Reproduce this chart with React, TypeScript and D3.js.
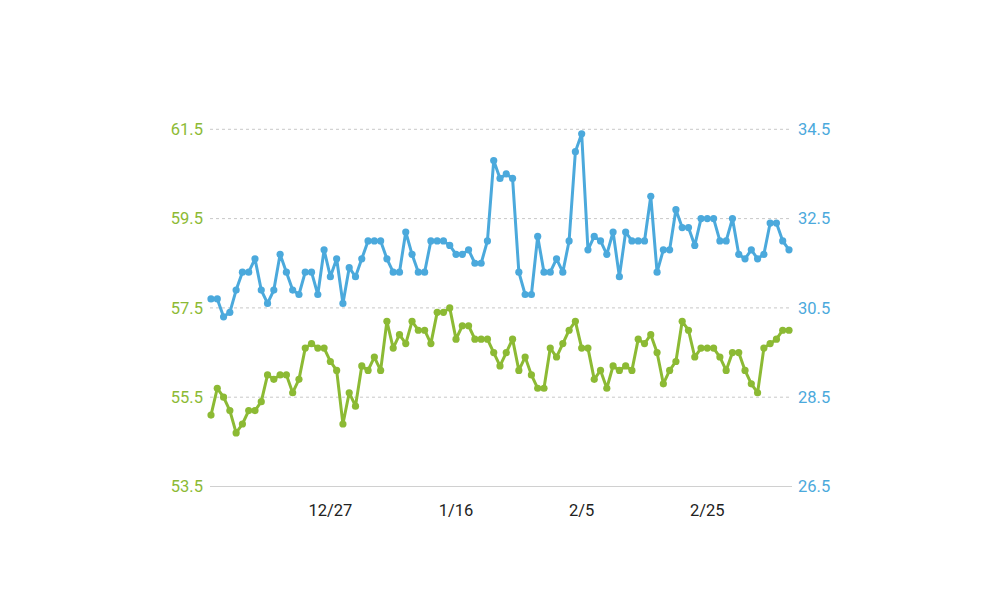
import React from "react";
import * as d3 from "d3";

const startDate = "2020-12-08";
const greenValues = [
  55.1, 55.7, 55.5, 55.2, 54.7, 54.9, 55.2, 55.2, 55.4, 56.0,
  55.9, 56.0, 56.0, 55.6, 55.9, 56.6, 56.7, 56.6, 56.6, 56.3,
  56.1, 54.9, 55.6, 55.3, 56.2, 56.1, 56.4, 56.1, 57.2, 56.6,
  56.9, 56.7, 57.2, 57.0, 57.0, 56.7, 57.4, 57.4, 57.5, 56.8,
  57.1, 57.1, 56.8, 56.8, 56.8, 56.5, 56.2, 56.5, 56.8, 56.1,
  56.4, 56.0, 55.7, 55.7, 56.6, 56.4, 56.7, 57.0, 57.2, 56.6,
  56.6, 55.9, 56.1, 55.7, 56.2, 56.1, 56.2, 56.1, 56.8, 56.7,
  56.9, 56.5, 55.8, 56.1, 56.3, 57.2, 57.0, 56.4, 56.6, 56.6,
  56.6, 56.4, 56.1, 56.5, 56.5, 56.1, 55.8, 55.6, 56.6, 56.7,
  56.8, 57.0, 57.0,
];
const blueValues = [
  30.7, 30.7, 30.3, 30.4, 30.9, 31.3, 31.3, 31.6, 30.9, 30.6,
  30.9, 31.7, 31.3, 30.9, 30.8, 31.3, 31.3, 30.8, 31.8, 31.2,
  31.6, 30.6, 31.4, 31.2, 31.6, 32.0, 32.0, 32.0, 31.6, 31.3,
  31.3, 32.2, 31.7, 31.3, 31.3, 32.0, 32.0, 32.0, 31.9, 31.7,
  31.7, 31.8, 31.5, 31.5, 32.0, 33.8, 33.4, 33.5, 33.4, 31.3,
  30.8, 30.8, 32.1, 31.3, 31.3, 31.6, 31.3, 32.0, 34.0, 34.4,
  31.8, 32.1, 32.0, 31.7, 32.2, 31.2, 32.2, 32.0, 32.0, 32.0,
  33.0, 31.3, 31.8, 31.8, 32.7, 32.3, 32.3, 31.9, 32.5, 32.5,
  32.5, 32.0, 32.0, 32.5, 31.7, 31.6, 31.8, 31.6, 31.7, 32.4,
  32.4, 32.0, 31.8,
];
const leftTicks = [53.5, 55.5, 57.5, 59.5, 61.5];
const rightTicks = [26.5, 28.5, 30.5, 32.5, 34.5];
const xTickLabels = ["12/27", "1/16", "2/5", "2/25"];
const xTickDates = ["2020-12-27", "2021-01-16", "2021-02-05", "2021-02-25"];

const GREEN = "#8cba34";
const BLUE = "#4ba9dc";

export default function App() {
  const W = 1000, H = 600;
  const left = 210, right = 790, top = 129.3, bottom = 486.5;
  const parse = d3.utcParse("%Y-%m-%d");
  const start = parse(startDate) as Date;
  const dates = greenValues.map((_, i) => d3.utcDay.offset(start, i));
  const x = d3.scaleUtc().domain([dates[0], dates[dates.length - 1]]).range([left + 1, right - 1]);
  const yL = d3.scaleLinear().domain([53.5, 61.5]).range([bottom, top]);
  const yR = d3.scaleLinear().domain([26.5, 34.5]).range([bottom, top]);

  const gLine = d3.line<number>().x((_, i) => x(dates[i])).y((d) => yL(d));
  const bLine = d3.line<number>().x((_, i) => x(dates[i])).y((d) => yR(d));
  const font = "Roboto, 'Noto Sans', sans-serif";

  return (
    <svg width={W} height={H} style={{ position: "absolute", left: 0, top: 0 }} fontFamily={font}>
      <rect width={W} height={H} fill="#fff" />
      {leftTicks.slice(1).map((t) => (
        <line key={t} x1={left} x2={right} y1={yL(t)} y2={yL(t)} stroke="#c8c8c8" strokeWidth={1} strokeDasharray="3,3" />
      ))}
      <line x1={left} x2={right + 2} y1={bottom} y2={bottom} stroke="#d0d0d0" strokeWidth={1.2} />
      {leftTicks.map((t) => (
        <text key={t} x={203} y={yL(t)} dy="0.35em" textAnchor="end" fill={GREEN} fontSize={16.5}>
          {t.toFixed(1)}
        </text>
      ))}
      {rightTicks.map((t) => (
        <text key={t} x={798} y={yR(t)} dy="0.35em" textAnchor="start" fill={BLUE} fontSize={16.5}>
          {t.toFixed(1)}
        </text>
      ))}
      {xTickDates.map((d, i) => (
        <text key={d} x={x(parse(d) as Date)} y={516} textAnchor="middle" fill="#222" fontSize={16.5}>
          {xTickLabels[i]}
        </text>
      ))}
      <path d={bLine(blueValues) || ""} fill="none" stroke={BLUE} strokeWidth={3} strokeLinejoin="round" />
      {blueValues.map((v, i) => (
        <circle key={"b" + i} cx={x(dates[i])} cy={yR(v)} r={3.6} fill={BLUE} />
      ))}
      <path d={gLine(greenValues) || ""} fill="none" stroke={GREEN} strokeWidth={3} strokeLinejoin="round" />
      {greenValues.map((v, i) => (
        <circle key={"g" + i} cx={x(dates[i])} cy={yL(v)} r={3.6} fill={GREEN} />
      ))}
    </svg>
  );
}
